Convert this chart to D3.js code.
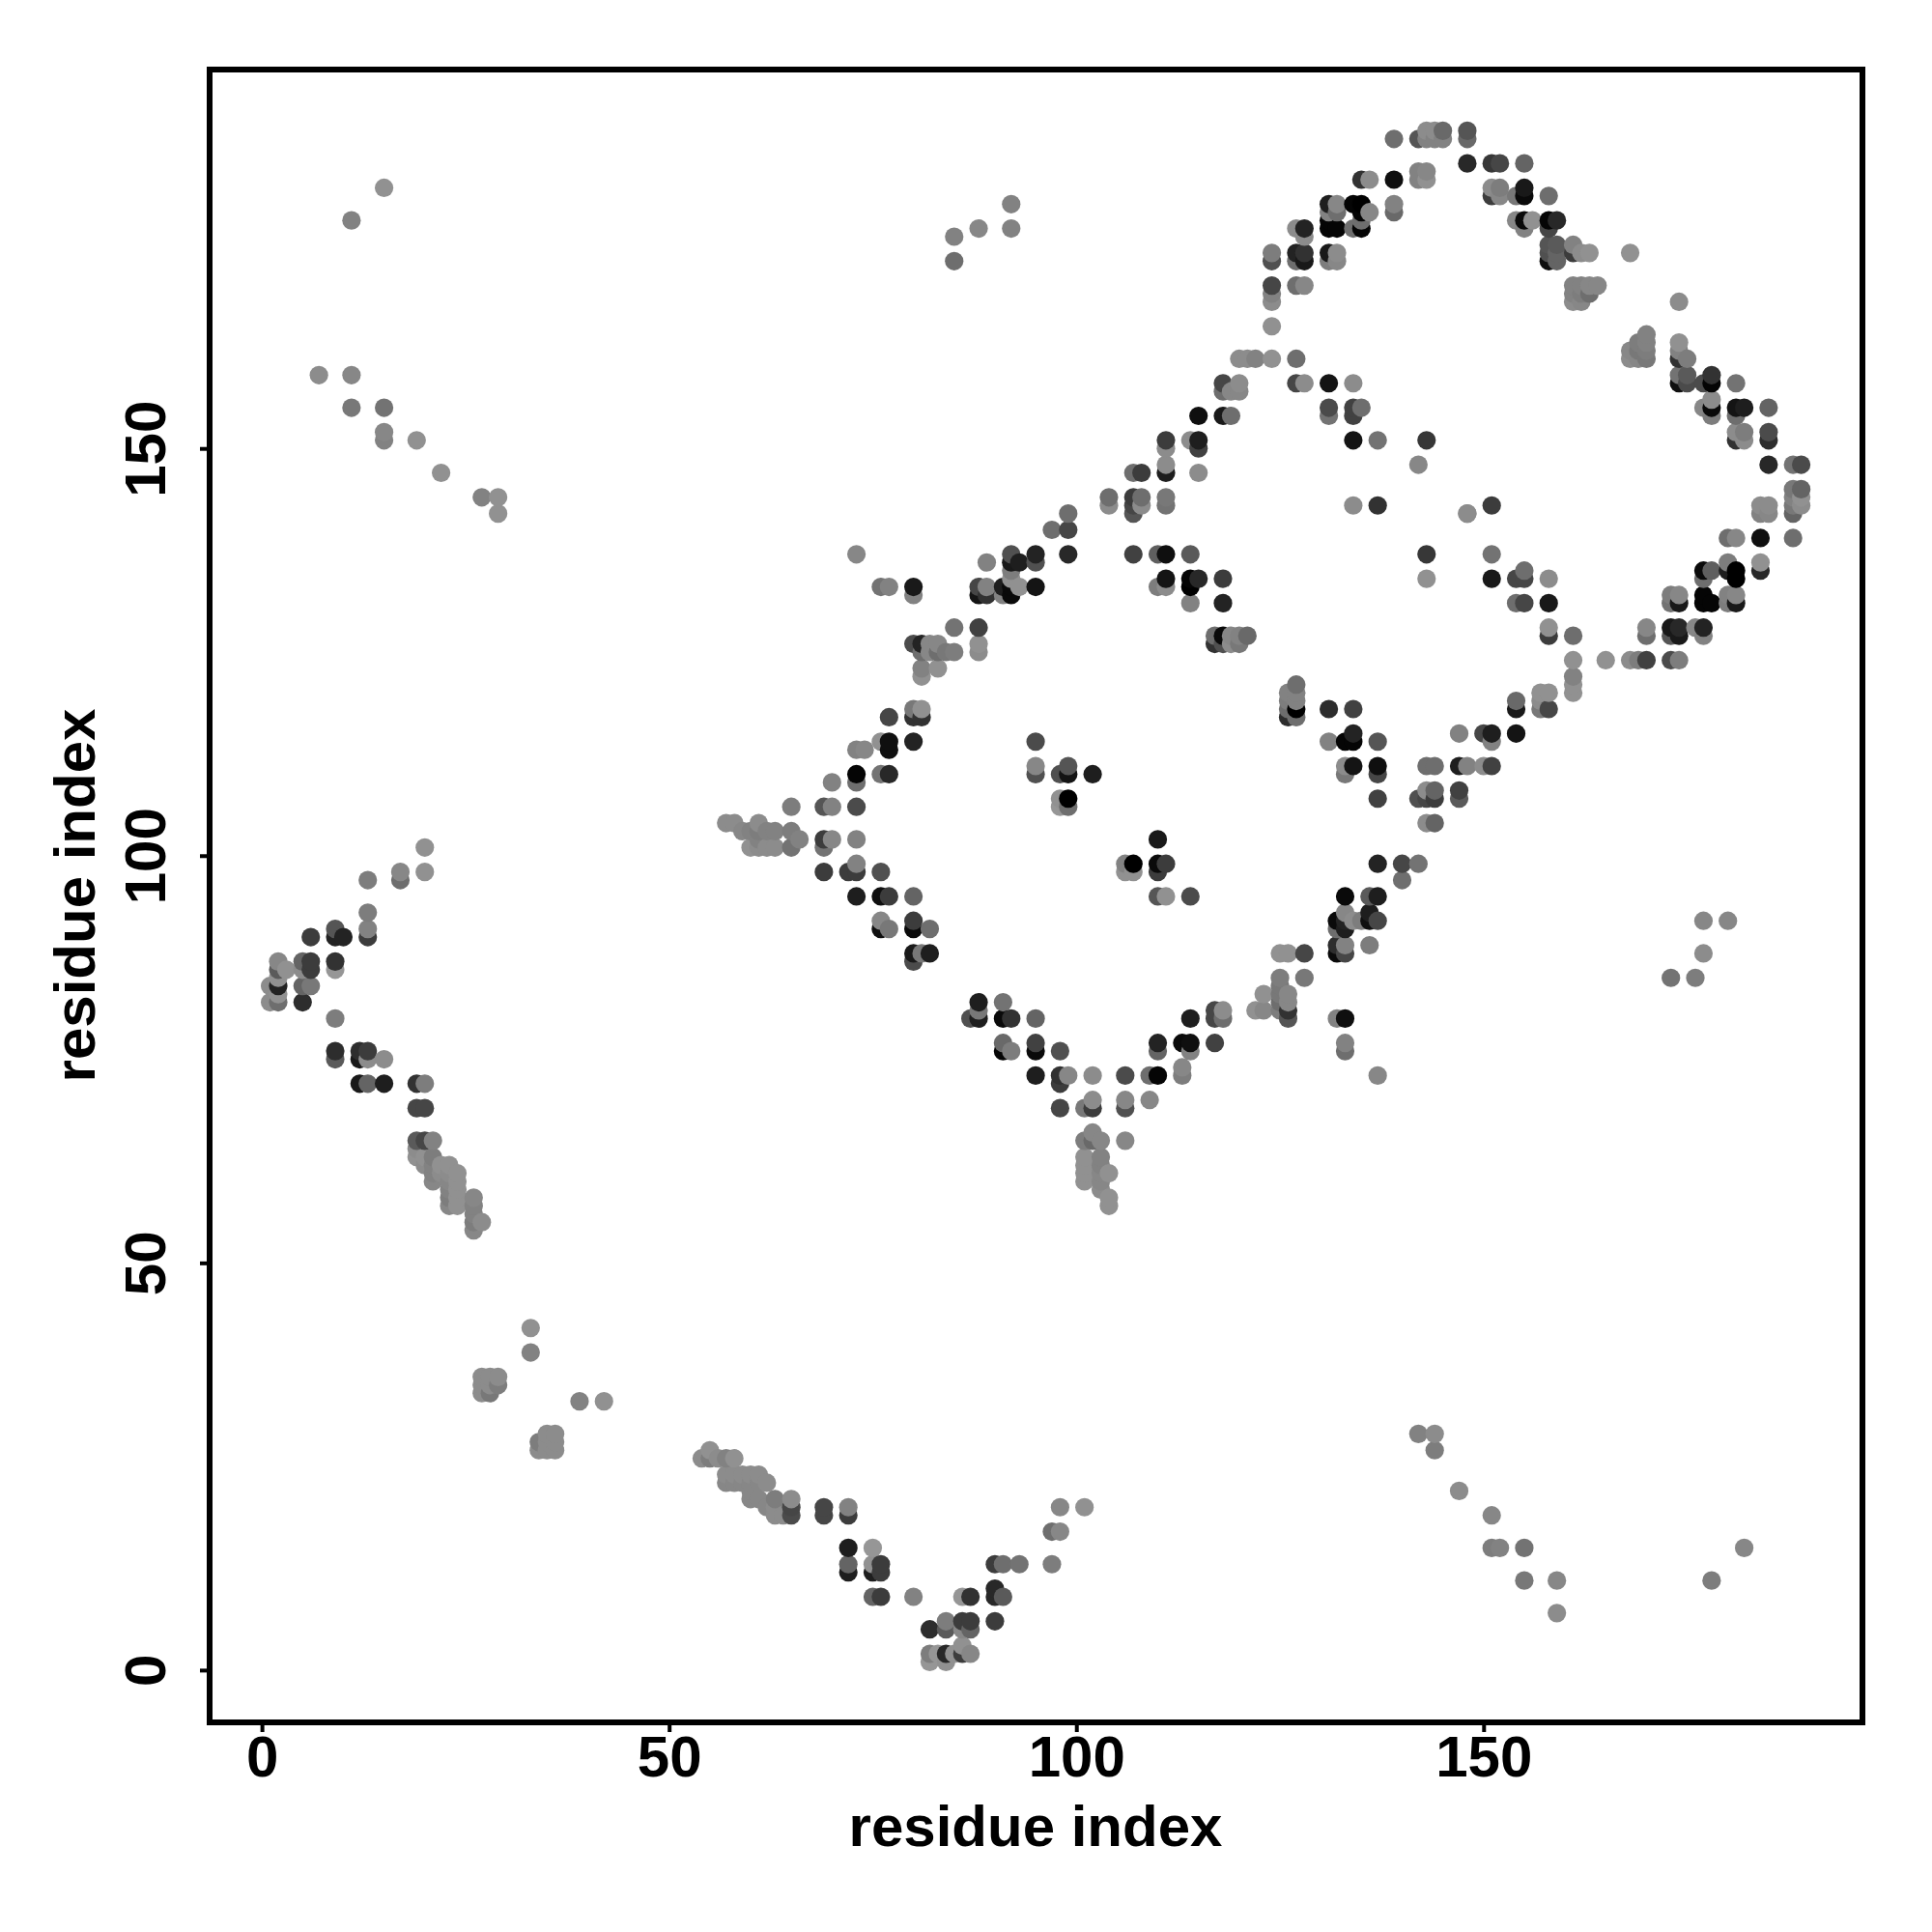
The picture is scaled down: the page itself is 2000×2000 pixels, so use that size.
<!DOCTYPE html>
<html><head><meta charset="utf-8">
<script src="https://cdn.jsdelivr.net/npm/d3@7/dist/d3.min.js"></script>
<style>html,body{margin:0;background:#fff}svg{display:block}text{font-family:"Liberation Sans",Arial,sans-serif;font-weight:bold;fill:#000}</style>
</head><body><svg id="c" width="2000" height="2000"></svg>
<script>
// contacts: residue x, residue y, grey shade
const topLeftContacts=[[15,182,145],[11,178,130],[7,159,140],[11,159,135],[11,155,120],[15,155,115],[15,151,130],[15,152,135],[19,151,145],[22,147,145],[27,144,130],[29,144,145],[29,142,145]];
const leftContacts=[[20,101,145],[20,98,145],[17,97,110],[17,98,135],[13,97,125],[13,93,125],[13,90,60],[13,91,130],[9,90,35],[9,91,85],[10,90,35],[6,90,60],[9,86,150],[9,87,50],[6,86,60],[6,87,60],[5,86,140],[5,87,100],[2,82,110],[2,83,145],[2,84,35],[2,85,145],[2,86,90],[2,87,135],[3,86,145],[1,82,140],[1,84,140],[5,82,45],[5,84,100],[6,84,120],[9,80,125],[9,75,90],[9,76,45],[12,75,25],[12,76,45],[13,75,140],[13,76,60],[15,75,140],[12,72,25],[13,72,100],[15,72,30],[19,72,50],[20,72,125],[19,69,70],[20,69,70]];
const leftTailContacts=[[19,63,145],[19,64,140],[19,65,90],[20,62,140],[20,63,145],[20,65,70],[21,60,135],[21,61,130],[21,62,130],[21,63,125],[21,65,130],[22,61,140],[22,62,145],[23,57,135],[23,58,125],[23,59,130],[23,60,135],[23,61,140],[23,62,145],[24,57,145],[24,58,145],[24,59,145],[24,60,145],[24,61,145],[26,54,135],[26,55,125],[26,56,130],[26,57,130],[26,58,135],[27,55,140]];
const lowerContacts=[[33,42,145],[33,39,130],[27,34,140],[27,35,140],[27,36,140],[28,34,120],[28,35,140],[28,36,140],[29,35,125],[29,36,140],[39,33,130],[42,33,145],[34,27,140],[34,28,125],[35,27,140],[35,28,140],[35,29,140],[36,27,140],[36,28,140],[36,29,140],[54,26,140],[55,26,125],[55,27,145],[56,26,140],[57,26,130],[58,26,145]];
const lowerBandContacts=[[57,23,135],[57,24,140],[58,23,135],[58,24,140],[59,23,135],[59,24,140],[60,21,135],[60,22,135],[60,23,135],[60,24,140],[61,21,135],[61,23,135],[61,24,140],[62,20,135],[62,23,140],[63,19,140],[63,20,140],[63,21,125],[64,19,140],[65,19,75],[65,20,70],[65,21,140],[69,19,70],[69,20,70],[72,19,60],[72,20,130]];
const bottomContacts=[[72,12,30],[72,13,100],[72,15,30],[75,15,150],[75,12,30],[75,13,145],[76,12,60],[76,13,60],[75,9,100],[76,9,60],[80,9,130],[82,5,45],[84,5,90],[84,6,125],[86,9,150],[87,9,50],[86,5,135],[86,6,60],[87,5,100],[87,6,60],[90,9,40],[90,10,40],[91,9,90],[90,6,60],[90,13,60],[91,13,110],[93,13,115],[97,13,125],[97,17,110],[98,17,135],[98,20,135],[101,20,145],[82,1,150],[82,2,125],[83,2,150],[84,1,145],[84,2,40],[85,2,145],[86,2,60],[86,3,145],[87,2,135]];
const diagonalLowerContacts=[[99,142,110],[99,140,70],[97,140,110],[99,137,40],[95,136,80],[95,137,35],[92,136,25],[92,137,80],[93,136,30],[89,136,130],[92,135,125],[92,134,145],[93,133,145],[91,132,130],[91,133,30],[92,132,10],[92,133,10],[95,133,20],[88,132,20],[88,133,70],[89,132,50],[89,133,130],[80,132,130],[80,133,25],[77,133,130],[76,133,115],[73,137,135],[85,128,115],[88,128,65],[88,125,140],[88,126,145],[80,126,75],[81,126,35],[82,126,135],[83,126,135],[81,125,110],[82,125,135],[83,125,110],[84,125,120],[85,125,125],[81,122,145],[81,123,130],[83,123,145],[80,117,50],[80,118,120],[81,117,50],[81,118,145],[77,117,70],[76,114,145],[77,113,15],[77,114,15],[80,114,35],[73,113,130],[74,113,135],[73,109,110],[73,110,5],[76,110,115],[77,110,40],[70,109,130],[65,106,125],[69,106,85],[70,106,130],[73,106,75]];
const wingContacts=[[57,104,140],[58,104,140],[59,103,135],[60,101,145],[60,103,130],[61,101,140],[61,102,130],[61,103,125],[61,104,140],[62,101,140],[62,103,130],[63,101,140],[63,103,130],[65,101,115],[65,103,125],[66,102,130],[69,101,115],[69,102,60],[70,102,135],[73,102,130],[69,98,60],[72,98,60],[73,98,60],[73,99,130],[76,98,80],[73,95,30],[76,95,15],[77,95,60],[80,95,100]];
const diamondLeftContacts=[[76,91,15],[76,92,135],[77,91,120],[80,91,10],[80,92,60],[82,91,110],[80,87,75],[80,88,25],[81,88,120],[82,88,30],[88,80,30],[88,81,120],[88,82,30],[91,82,115],[87,80,80],[91,80,10],[92,80,50],[95,80,100],[91,76,5],[91,77,105],[92,76,125],[95,76,10],[95,77,65],[98,76,80],[95,73,30],[98,72,60],[98,73,50],[99,73,135],[102,73,140],[106,73,75],[109,73,110],[110,73,5],[98,69,70],[101,69,120],[102,69,60],[102,70,140],[106,69,80],[106,70,135],[109,70,135]];
const columnContacts=[[101,65,125],[102,65,105],[102,66,135],[103,65,135],[106,65,135],[101,60,145],[101,61,145],[101,62,145],[101,63,145],[103,60,135],[103,61,135],[103,62,130],[103,63,130],[104,61,145],[103,59,140],[104,57,145],[104,58,145]];
const centerContacts=[[95,114,75],[95,110,80],[95,111,135],[98,110,80],[99,110,20],[99,111,85],[102,110,30],[98,106,150],[98,107,145],[99,106,110],[99,107,0],[110,102,25],[106,98,145],[106,99,130],[107,98,145],[107,99,0],[110,98,60],[110,99,10],[111,99,60],[110,95,85],[111,95,145],[114,95,75]];
const lowerRightContacts=[[110,76,100],[110,77,35],[113,77,10],[114,76,130],[114,77,15],[114,80,30],[117,80,70],[117,81,70],[118,80,110],[118,81,140],[117,77,65],[113,73,125],[113,74,135],[122,81,145],[123,81,135],[123,83,145],[125,81,125],[125,82,110],[125,83,120],[125,84,120],[125,85,125],[126,80,85],[126,81,50],[126,82,135],[126,83,135],[125,88,145],[126,88,145],[128,88,70],[128,85,120],[132,80,130],[133,80,15],[133,76,110],[133,77,130],[137,73,135],[132,88,10],[132,89,45],[132,91,110],[132,92,10],[133,88,70],[133,89,130],[133,91,30],[133,92,35],[133,93,135],[134,92,140],[135,92,125],[136,89,125],[136,92,15],[136,93,30],[137,92,70],[133,95,10],[136,95,90],[137,95,30],[137,99,35],[140,97,110],[140,99,70],[142,99,115]];
const diagonalUpperContacts=[[143,104,140],[144,104,100],[143,107,70],[143,108,140],[144,107,60],[144,108,100],[142,107,80],[143,111,110],[144,111,110],[147,107,90],[147,108,65],[147,111,30],[148,111,130],[147,115,130],[150,111,140],[151,111,65],[150,115,70],[151,114,130],[151,115,30],[154,115,20],[154,118,25],[154,119,105],[157,118,120],[157,119,140],[157,120,145],[158,118,70],[158,120,145],[161,120,145],[161,121,145],[161,122,130],[161,124,145],[161,127,110],[158,127,60],[158,128,145],[154,131,110],[155,131,70],[158,131,25],[154,134,70],[155,134,70],[155,135,110],[158,134,140],[151,134,25],[151,137,115],[143,134,145],[143,137,55],[165,124,145],[168,124,140],[169,124,125],[170,124,65],[151,143,60],[148,142,130]];
const innerContacts=[[131,114,130],[131,118,45],[133,110,120],[133,111,140],[133,114,5],[134,111,20],[134,114,5],[134,115,35],[134,118,65],[137,107,65],[137,110,70],[137,111,15],[137,114,85],[117,126,50],[117,127,110],[118,126,80],[118,127,10],[119,126,140],[119,127,135],[120,126,120],[120,127,130],[121,127,105],[127,121,110],[126,117,45],[126,118,110],[126,119,125],[126,120,130],[127,117,110],[127,118,0],[127,119,130],[127,120,130],[107,137,65],[110,137,95],[111,137,15],[114,137,90],[110,133,125],[111,133,140],[111,134,20],[114,131,130],[114,133,0],[114,134,5],[115,134,40],[118,131,35],[118,134,60]];
const upperDiagonalContacts=[[104,143,140],[104,144,110],[107,142,85],[107,143,70],[107,144,60],[108,143,140],[108,144,110],[111,143,115],[111,144,120],[107,147,110],[108,147,60],[111,147,30],[111,148,140],[111,150,140],[111,151,60],[114,151,140],[115,147,140],[115,150,65],[115,151,30],[115,154,15],[118,154,25],[119,154,110],[118,157,110],[118,158,70],[119,157,135],[120,157,135],[120,158,140],[120,161,140],[121,161,140],[122,161,130],[124,161,145],[127,161,110],[127,158,70],[128,158,140],[131,158,20],[134,158,140],[131,154,115],[131,155,75],[134,151,20],[134,154,65],[134,155,65],[135,155,110],[137,151,115],[143,151,55],[142,148,135],[134,143,140],[137,143,50],[148,142,140]];
const arcContacts=[[124,165,145],[124,168,140],[124,169,130],[124,170,70],[127,170,110],[128,170,135],[124,173,80],[124,174,125],[127,173,110],[127,174,35],[128,173,25],[128,174,50],[131,173,125],[131,174,25],[132,173,135],[132,174,140],[127,177,140],[128,176,140],[128,177,35],[131,177,5],[131,178,5],[132,177,5],[134,177,110],[135,177,5],[135,178,110],[131,179,130],[131,180,30],[132,179,110],[132,180,135],[134,180,5],[135,179,5],[135,180,0],[136,179,135],[139,179,105],[139,180,130],[135,183,50],[136,183,140],[139,183,15],[142,183,130],[142,184,130],[143,183,145],[143,184,135],[139,188,110],[142,188,85],[143,188,130],[143,189,140],[144,188,130],[144,189,140],[145,188,130],[145,189,105],[148,188,105],[148,189,85],[148,185,40],[151,185,55],[152,185,70],[155,185,100],[151,181,60],[151,182,140],[152,181,135],[152,182,125],[154,181,120],[155,181,10],[155,182,25],[158,181,110],[154,178,135],[155,177,130],[155,178,10],[156,178,145],[158,177,70],[158,178,5],[159,178,40],[158,173,15],[158,174,80],[158,175,85],[159,173,100],[159,174,100],[159,175,90],[161,174,60],[161,175,130],[162,174,140],[163,174,145],[168,174,145],[161,168,140],[161,169,130],[161,170,130],[162,168,135],[162,169,125],[162,170,130],[163,169,110],[163,170,135],[164,170,135]];
const rightContacts=[[174,168,140],[168,161,140],[168,162,135],[169,161,135],[169,162,120],[169,163,125],[170,161,120],[170,162,125],[170,163,130],[170,164,130],[174,161,50],[174,162,130],[174,163,145],[175,161,125],[174,158,15],[174,159,115],[175,158,75],[175,159,90],[177,158,75],[178,158,5],[178,159,50],[181,158,115],[177,155,135],[178,154,125],[178,155,10],[178,156,140],[181,154,110],[181,155,20],[182,155,30],[185,155,100],[181,151,50],[181,152,140],[182,151,140],[182,152,125],[185,151,45],[185,152,75],[185,148,40],[188,148,115],[189,148,75],[188,142,100],[188,143,120],[188,144,130],[188,145,120],[189,143,140],[189,144,145],[189,145,100],[184,142,130],[184,143,140],[185,142,135],[185,143,140],[180,139,110],[181,139,135],[184,139,15],[188,139,110],[184,135,40],[184,136,145],[180,135,30],[180,136,125],[181,134,0],[181,135,0],[177,134,110],[177,135,10],[178,135,95],[177,131,5],[177,132,5],[178,131,5],[180,131,125],[180,132,130],[181,131,25],[181,132,135],[173,131,115],[173,132,125],[174,131,25],[174,132,135],[173,127,85],[173,128,25],[174,127,25],[174,128,40],[176,128,135],[177,127,130],[177,128,35],[170,127,110],[170,128,135],[173,124,75],[174,124,125]];
const farContacts=[[85,173,110],[85,176,130],[88,177,135],[92,177,130],[92,180,130],[173,85,115],[176,85,125],[177,88,140],[177,92,135],[180,92,135],[142,29,130],[144,29,140],[144,27,125],[147,22,140],[151,19,135],[151,15,125],[152,15,130],[155,15,115],[155,11,120],[159,11,135],[159,7,140],[178,11,125],[182,15,135]];
const tickValues=[0,50,100,150];
const axisTitle="residue index";

const contacts=d3.sort([].concat(topLeftContacts,leftContacts,leftTailContacts,lowerContacts,lowerBandContacts,bottomContacts,diagonalLowerContacts,wingContacts,diamondLeftContacts,columnContacts,centerContacts,lowerRightContacts,diagonalUpperContacts,innerContacts,upperDiagonalContacts,arcContacts,rightContacts,farContacts),
  (a,b)=>d3.ascending(a[0],b[0])||d3.ascending(a[1],b[1]));

const box={l:217,r:1928,t:72,b:1783};
const x=d3.scaleLinear().domain([-6.42,196.52]).range([box.l,box.r]);
const y=d3.scaleLinear().domain([-6.42,196.52]).range([box.b,box.t]);
const svg=d3.select("#c");
svg.append("g").selectAll("circle").data(contacts).join("circle")
  .attr("cx",d=>x(d[0])).attr("cy",d=>y(d[1])).attr("r",9.6)
  .attr("fill",d=>d3.rgb(d[2],d[2],d[2]));
svg.append("rect").attr("x",box.l).attr("y",box.t).attr("width",box.r-box.l).attr("height",box.b-box.t)
  .attr("fill","none").attr("stroke","#000").attr("stroke-width",6);

const gx=svg.append("g").attr("transform",`translate(0,${box.b})`)
  .call(d3.axisBottom(x).tickValues(tickValues).tickSize(10).tickPadding(0));
gx.select(".domain").remove();
gx.selectAll("line").attr("stroke","#000").attr("stroke-width",4);
gx.selectAll("text").attr("font-size",60).attr("dy",null).attr("y",56);
const gy=svg.append("g").attr("transform",`translate(${box.l},0)`)
  .call(d3.axisLeft(y).tickValues(tickValues).tickSize(10).tickPadding(0));
gy.select(".domain").remove();
gy.selectAll("line").attr("stroke","#000").attr("stroke-width",4);
gy.selectAll("text").attr("font-size",60).attr("dy",null).attr("x",null)
  .attr("text-anchor","middle").attr("transform","translate(-46,0) rotate(-90)");
svg.append("text").attr("x",1072).attr("y",1911).attr("text-anchor","middle").attr("font-size",60).text(axisTitle);
svg.append("text").attr("transform","translate(98,927) rotate(-90)").attr("text-anchor","middle").attr("font-size",60).text(axisTitle);
</script></body></html>
